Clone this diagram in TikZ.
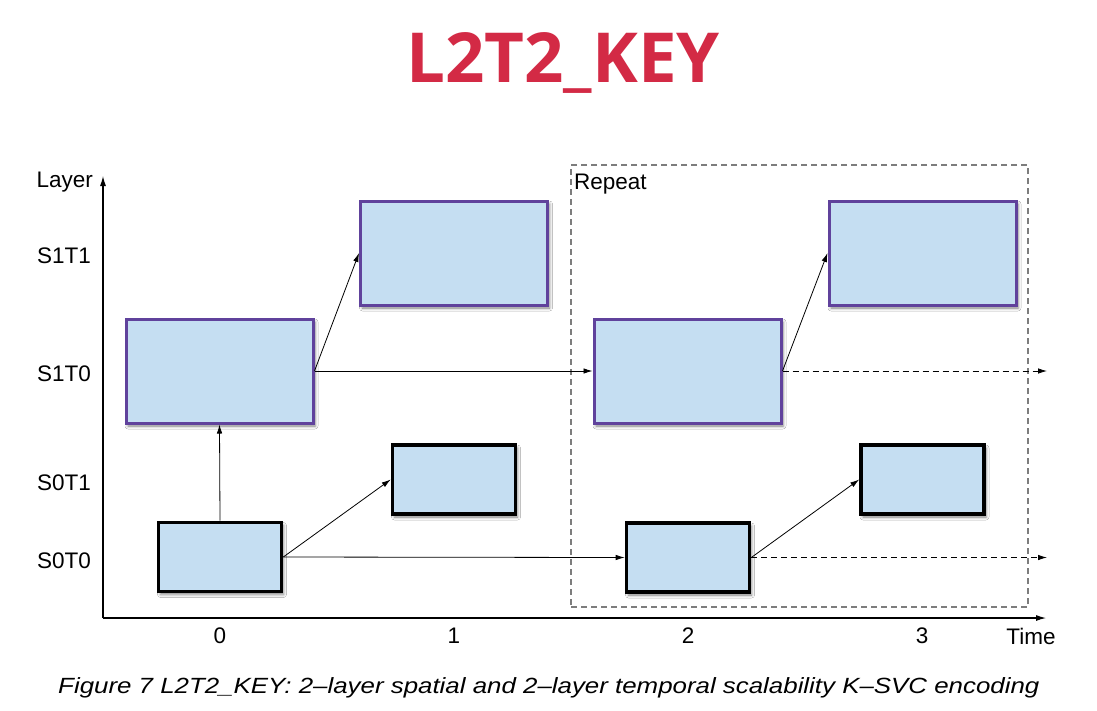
\documentclass[tikz,border=0pt]{standalone}
\usepackage{fontspec}
\setmainfont{Liberation Sans}
\newfontfamily\titlefont{Open Sans}
\usetikzlibrary{arrows.meta,shadows.blur}
\definecolor{titlered}{RGB}{211,42,69}
\definecolor{boxfill}{RGB}{197,222,242}
\definecolor{spurple}{RGB}{96,66,156}
\definecolor{dashgray}{RGB}{125,125,125}
\tikzset{
  sbox/.style={draw=spurple,line width=3pt,fill=boxfill,rectangle,inner sep=0pt,
    blur shadow={shadow xshift=2pt,shadow yshift=-3pt,shadow blur radius=3pt,shadow opacity=50}},
  bbox/.style={draw=black,line width=3.6pt,fill=boxfill,rectangle,inner sep=0pt,
    blur shadow={shadow xshift=2pt,shadow yshift=-3pt,shadow blur radius=3pt,shadow opacity=50}},
  big/.style={minimum width=187pt,minimum height=104pt},
  small/.style={minimum width=123pt,minimum height=69pt},
  conn/.style={line width=0.8pt,-{Latex[length=9pt,width=5.5pt]}},
  dconn/.style={conn,dash pattern=on 6pt off 4pt},
  axis/.style={line width=1.1pt,-{Latex[length=10pt,width=6pt]}},
  lbl/.style={font=\fontsize{22.5}{26}\selectfont,inner sep=0pt},
}
\begin{document}
\begin{tikzpicture}[x=1pt,y=-1pt]
\useasboundingbox[fill=white] (0,0) rectangle (1097,710);
% title
\node[font=\titlefont\bfseries\fontsize{69}{80}\selectfont,text=titlered,inner sep=0pt] (title) at (563,63) {L2T2\_KEY};
% repeat box
\node[draw=dashgray,line width=1.5pt,dash pattern=on 6pt off 4pt,rectangle,minimum width=457pt,minimum height=442pt,inner sep=0pt] (rep) at (799.5,386) {};
\node[lbl,anchor=west] (replbl) at (574,184) {Repeat};
% axes
\coordinate (org) at (103,618);
\coordinate (ytop) at (103,176);
\coordinate (xend) at (1046,618);
\draw[axis] (org) -- (ytop);
\draw[axis] (org) -- (xend);
\node[lbl,anchor=east] (layer) at (93,182) {Layer};
\node[lbl] (time) at (1031,636) {Time};
% y labels
\node[lbl,anchor=east] (l11) at (91,256) {S1T1};
\node[lbl,anchor=east] (l10) at (91,374) {S1T0};
\node[lbl,anchor=east] (l01) at (91,483) {S0T1};
\node[lbl,anchor=east] (l00) at (91,561) {S0T0};
% x labels
\node[lbl] (t0) at (220,636) {0};
\node[lbl] (t1) at (454,636) {1};
\node[lbl] (t2) at (688,636) {2};
\node[lbl] (t3) at (922,636) {3};
% boxes
\node[sbox,big] (a0) at (219.5,371) {};
\node[sbox,big] (a1) at (454,253) {};
\node[sbox,big] (a2) at (687.5,371) {};
\node[sbox,big] (a3) at (922.5,253) {};
\node[bbox,small] (b0) at (220,557) {};
\node[bbox,small] (b1) at (454,479.5) {};
\node[bbox,small] (b2) at (688,557.5) {};
\node[bbox,small] (b3) at (922.5,479.5) {};
% connectors
\coordinate (e1) at (1047,371);
\coordinate (e0) at (1047,557.5);
\draw[conn] (b0.north) -- (a0.south);
\draw[conn] (b0.east) -- (b1.west);
\draw[conn] (b0.east) -- (b2.west);
\draw[conn] (a0.east) -- (a1.west);
\draw[conn] (a0.east) -- (a2.west);
\draw[conn] (a2.east) -- (a3.west);
\draw[conn] (b2.east) -- (b3.west);
\draw[dconn] (a2.east) -- (e1);
\draw[dconn] (b2.east) -- (e0);
% caption
\node[inner sep=0pt,anchor=west] (cap) at (58,688) {\scalebox{1.176}[1]{\itshape\fontsize{22}{26}\selectfont Figure 7 L2T2\_KEY: 2–layer spatial and 2–layer temporal scalability K–SVC encoding}};
\end{tikzpicture}
\end{document}
